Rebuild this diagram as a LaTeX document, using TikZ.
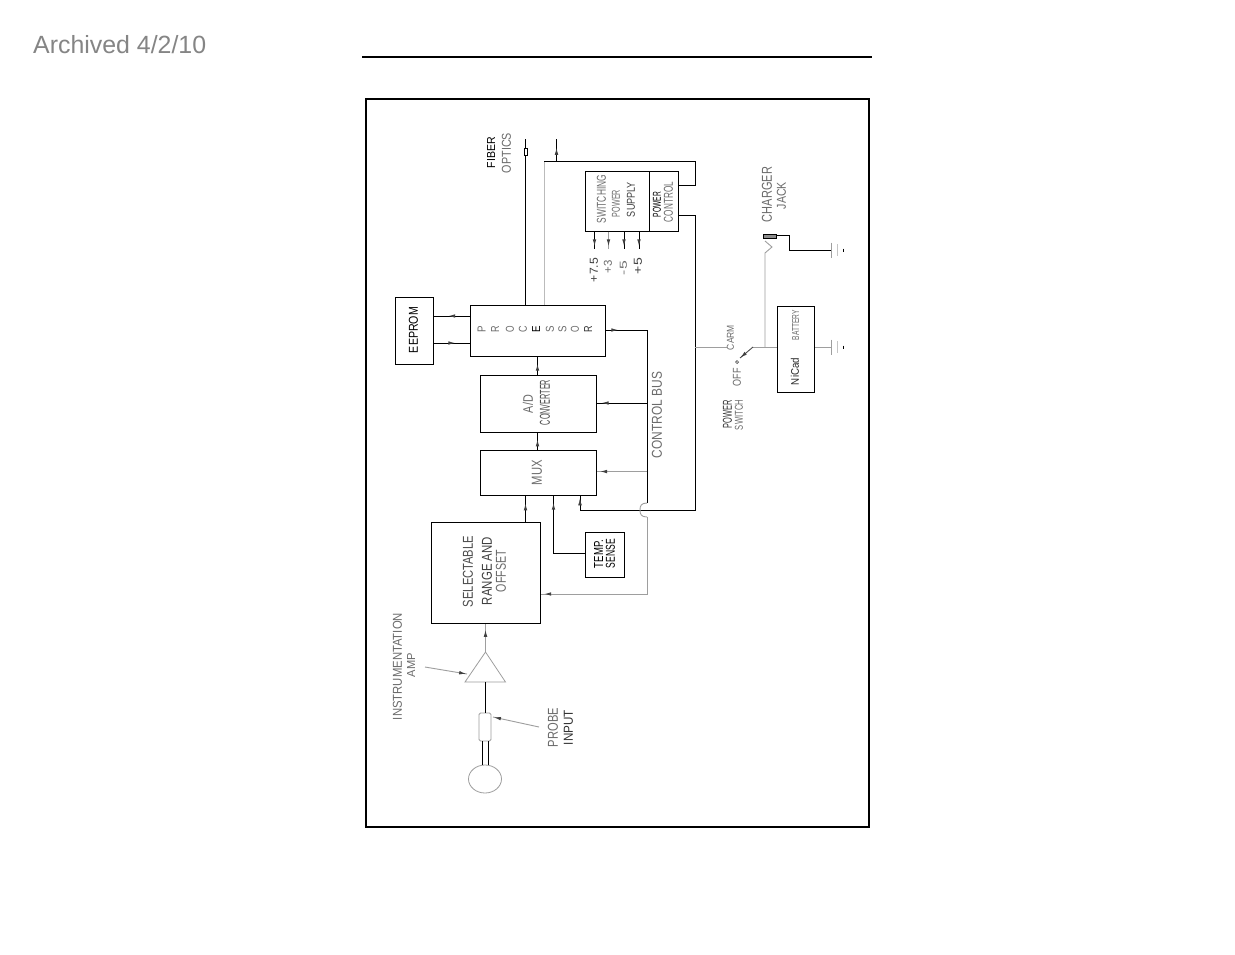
\documentclass[tikz,border=0pt]{standalone}
\usepackage{fontspec}
\setmainfont{Liberation Sans}
\usetikzlibrary{arrows.meta,decorations.markings}
\definecolor{lblgray}{gray}{0.42}
\definecolor{wiregray}{gray}{0.62}
\definecolor{archgray}{gray}{0.52}
\tikzset{
  box/.style={draw=black,line width=1pt,inner sep=0pt,fill=white},
  wire/.style={draw=black,line width=1pt},
  thinwire/.style={draw=wiregray,line width=0.9pt},
  lbl/.style={inner sep=0pt,outer sep=0pt},
  tiparrow/.style={postaction={decorate},decoration={markings,mark=at position #1 with {\arrow[black!75]{Latex[length=7pt,width=3.6pt]}}}},
}
\newcommand{\diaglab}[7][lblgray]{%
  \pgfmathsetmacro\cx{(#3+#4)/2}\pgfmathsetmacro\cy{(#5+#6)/2}%
  \pgfmathsetmacro\ww{#6-#5}\pgfmathsetmacro\hh{#4-#3}%
  \node[lbl,rotate=90,text=#1] (#2) at (\cx,\cy) {\resizebox{\ww pt}{\hh pt}{#7}};}
\newcommand{\gndsym}[1]{%
  \draw[thinwire] ([shift={(0,-7.5)}]#1) -- ([shift={(0,7.5)}]#1);
  \draw[draw=wiregray!60,line width=0.9pt] ([shift={(6,-6)}]#1) -- ([shift={(6,6)}]#1);
  \draw[draw=black,line width=0.9pt] ([shift={(12,-1.5)}]#1) -- ([shift={(12,1.5)}]#1);}
\begin{document}
\begin{tikzpicture}[x=1pt,y=-1pt]
\useasboundingbox (0,0) rectangle (1235,954);
\fill[white] (0,0) rectangle (1235,954);
\node[anchor=base west,inner sep=0pt,text=archgray,font=\fontsize{24.9}{28}\selectfont] (archived) at (33,53) {Archived 4/2/10};
\coordinate (ruleL) at (362,57); \coordinate (ruleR) at (872,57);
\draw[black,line width=2pt] (ruleL) -- (ruleR);
\node[draw=black,line width=2pt,minimum width=503pt,minimum height=728pt,inner sep=0pt] (frame) at (617.5,463) {};
% boxes
\node[box,minimum width=135.5pt,minimum height=51pt] (proc) at (537.75,330.5) {};
\node[box,minimum width=38.5pt,minimum height=67pt] (eeprom) at (414.25,330.5) {};
\node[box,minimum width=116pt,minimum height=57pt] (adc) at (538,403.5) {};
\node[box,minimum width=116pt,minimum height=45pt] (mux) at (538,472.5) {};
\node[box,minimum width=108.5pt,minimum height=101pt] (range) at (485.75,572.5) {};
\node[box,minimum width=39.5pt,minimum height=45pt] (temp) at (604.75,554.5) {};
\node[box,minimum width=63.5pt,minimum height=60pt] (sps) at (617.25,201) {};
\node[box,minimum width=29.5pt,minimum height=60pt] (pwr) at (663.75,201) {};
\node[box,minimum width=37.5pt,minimum height=86pt] (batt) at (795.75,349) {};
% fibre and power control lines
\coordinate (fiberTop) at (525,139);
\draw[wire] (proc.north -| fiberTop) -- (fiberTop);
\node[draw=black,fill=white,line width=0.7pt,minimum width=3pt,minimum height=7pt,inner sep=0pt] (fiberTip) at (525.5,151.5) {};
\coordinate (txTop) at (556.5,139); \coordinate (txJoin) at (556.5,161);
\draw[wire,line width=0.8pt,tiparrow=0.6] (txJoin) -- (txTop);
\coordinate (fbLeft) at (544,161); \coordinate (fbRight) at (695,161); \coordinate (fbDown) at (695,185);
\draw[thinwire,draw=wiregray!70] (proc.north -| fbLeft) -- (fbLeft);
\draw[wire] (fbLeft) -- (fbRight) -- (fbDown) -- (fbDown -| pwr.east);
\coordinate (pcOut) at (695,215); \coordinate (busCorner) at (695,510); \coordinate (muxIn3) at (580,510);
\draw[wire] (pcOut -| pwr.east) -- (pcOut) -- (busCorner) -- (muxIn3) -- (muxIn3 |- mux.south);
\path[tiparrow=0.8] (muxIn3) -- (muxIn3 |- mux.south);
% supply outputs
\foreach \nm/\xx/\cc in {a/594.5/black,b/608.5/wiregray,c/624/black,d/639/black}{
  \coordinate (out\nm) at (\xx,249);
  \draw[draw=\cc,line width=1pt,tiparrow=0.85] (out\nm |- sps.south) -- (out\nm);
}
% EEPROM lines
\coordinate (ee1) at (450,316); \coordinate (ee2) at (450,343);
\draw[wire,tiparrow=0.6] (ee1 -| proc.west) -- (ee1 -| eeprom.east);
\draw[wire,tiparrow=0.6] (ee2 -| eeprom.east) -- (ee2 -| proc.west);
% signal chain
\coordinate (chain) at (537.5,400);
\draw[wire,tiparrow=0.6] (chain |- adc.north) -- (chain |- proc.south);
\draw[wire,tiparrow=0.6] (chain |- mux.north) -- (chain |- adc.south);
\coordinate (rangeOut) at (525.5,510);
\draw[wire,tiparrow=0.7] (rangeOut |- range.north) -- (rangeOut |- mux.south);
\coordinate (tempTurn) at (553.5,553);
\draw[wire,tiparrow=0.92] (tempTurn -| temp.west) -- (tempTurn) -- (tempTurn |- mux.south);
% control bus
\coordinate (busTop) at (647,330); \coordinate (busEnd) at (647,503);
\coordinate (busHopEnd) at (647,517); \coordinate (busLow) at (647,594);
\draw[wire,tiparrow=0.3] (busTop -| proc.east) -- (busTop);
\draw[wire] (busTop) -- (busEnd);
\draw[thinwire] (busEnd) .. controls (641,503) and (640,506) .. (640,510) .. controls (640,514) and (641,517) .. (busHopEnd);
\draw[thinwire,tiparrow=0.98] (busHopEnd) -- (busLow) -- (busLow -| range.east);
\coordinate (busAdc) at (647,403); \coordinate (busMux) at (647,471.5);
\draw[wire,tiparrow=0.9] (busAdc) -- (busAdc -| adc.east);
\draw[thinwire,tiparrow=0.93] (busMux) -- (busMux -| mux.east);
% front end
\coordinate (ampApex) at (485.5,652);
\coordinate (ampL) at (465,682); \coordinate (ampR) at (505.5,682); \coordinate (ampB) at (485.5,682);
\draw[thinwire,line width=0.8pt] (ampApex) -- (ampL) -- (ampR) -- cycle;
\draw[thinwire,tiparrow=0.78] (ampApex) -- (ampApex |- range.south);
\node[draw=wiregray,line width=0.8pt,rounded corners=1.5pt,minimum width=12pt,minimum height=28pt,inner sep=0pt,fill=white] (probe) at (485,727) {};
\draw[wire] (ampB) -- (ampB |- probe.north);
\node[draw=wiregray,line width=0.8pt,ellipse stub/.style={},inner sep=0pt,minimum size=0pt] (ballCtr) at (485,779) {};
\draw[thinwire,line width=0.8pt] (ballCtr.center) ellipse [x radius=16.5pt,y radius=14pt];
\coordinate (probeL) at (482,741); \coordinate (probeR) at (488,741);
\draw[draw=black,line width=1pt] (probeL) -- (482,765);
\draw[draw=black,line width=1pt] (probeR) -- (488,765);
\coordinate (ampNote) at (425,667); \coordinate (ampTip) at (467,674);
\draw[thinwire,tiparrow=0.98] (ampNote) -- (ampTip);
\coordinate (probeNote) at (539,727); \coordinate (probeTip) at (493,717);
\draw[thinwire,tiparrow=0.98] (probeNote) -- (probeTip);
% power side
\coordinate (swL) at (727,347); \coordinate (swJoin) at (765,347); \coordinate (swPivot) at (753,347); \coordinate (swTip) at (740,358);
\draw[thinwire] (busCorner |- swL) -- (swL);
\draw[thinwire] (swPivot) -- (batt.west |- swPivot);
\draw[draw=black!70,line width=0.9pt,tiparrow=0.98] (swPivot) -- (swTip);
\draw[black!70,line width=0.7pt] (737,362) circle [radius=1.5pt];
\coordinate (jackA) at (765,253); \coordinate (jackB) at (772,247); \coordinate (jackC) at (765,241);
\draw[thinwire] (swJoin) -- (jackA) -- (jackB) -- (jackC);
\node[draw=black,fill=black!45,line width=1pt,minimum width=13pt,minimum height=4pt,inner sep=0pt] (jack) at (770,236) {};
\coordinate (g1) at (831,250); \coordinate (g2) at (831,347); \coordinate (jt) at (789,235.5); \coordinate (jb) at (789,250);
\draw[wire] (jack.east |- jt) -- (jt) -- (jb) -- (g1);
\draw[thinwire] (batt.east |- g2) -- (g2);
\gndsym{g1}
\gndsym{g2}
% labels
\diaglab[black]{tFiber}{487}{495}{137}{168}{FIBER}
\diaglab{tOptics}{502}{511}{133}{173}{OPTICS}
\diaglab{tSw}{597}{606}{175}{223}{SWITCHING}
\diaglab{tPow}{612}{620}{190}{217}{POWER}
\diaglab[black!75]{tSup}{627}{635}{182}{217}{SUPPLY}
\diaglab[black]{tPc}{653}{661}{192}{217}{POWER}
\diaglab{tCt}{664}{673}{182}{222}{CONTROL}
\diaglab[black!75]{tV1}{590}{598}{258}{282}{+7.5}
\diaglab{tV2}{604}{612}{260}{273}{+3}
\diaglab{tV3}{620}{627}{261}{275}{-5}
\diaglab[black!75]{tV4}{634}{642}{258}{274}{+5}
\diaglab[black]{tEe}{409}{418}{307}{353}{EEPROM}
\diaglab{tAd}{523}{533}{395}{413}{A/D}
\diaglab[black!70]{tCv}{540}{550}{380}{425}{CONVERTER}
\diaglab{tMux}{532}{542}{460}{485}{MUX}
\diaglab{tBus}{652}{662}{372}{458}{CONTROL  BUS}
\diaglab[black!70]{tSel}{463}{473}{536}{607}{SELECTABLE}
\diaglab[black!75]{tRng}{482}{492}{537}{605}{RANGE  AND}
\diaglab{tOff}{496}{506}{550}{592}{OFFSET}
\diaglab[black]{tTm}{594}{603}{540}{568}{TEMP.}
\diaglab[black]{tSn}{606}{615}{539}{568}{SENSE}
\diaglab{tIn}{393}{402}{613}{720}{INSTRUMENTATION}
\diaglab{tAm}{407}{415}{653}{677}{AMP}
\diaglab{tPb}{548}{558}{708}{747}{PROBE}
\diaglab[black!80]{tIp}{564}{573}{710}{745}{INPUT}
\diaglab{tCh}{762}{772}{167}{222}{CHARGER}
\diaglab{tJk}{777}{786}{182}{209}{JACK}
\diaglab[black!85]{tNi}{791}{799}{358}{385}{NiCad}
\diaglab{tBa}{792}{799}{310}{340}{BATTERY}
\diaglab[black!80]{tPw}{723}{732}{400}{428}{POWER}
\diaglab{tSt}{735}{743}{400}{430}{SWITCH}
\diaglab{tOf}{733}{741}{368}{386}{OFF}
\diaglab{tCa}{727}{734}{325}{350}{CARM}
\foreach \nm/\xx/\ll/\cc in {1/481.5/P/lblgray,2/495/R/lblgray,3/510/O/lblgray,4/523/C/lblgray,5/536/E/black,6/550/S/lblgray,7/562.5/S/lblgray,8/575/O/lblgray,9/588/R/black!80}{
  \node[lbl,rotate=90,text=\cc] (tP\nm) at (\xx,329.5) {\resizebox{6.5pt}{8pt}{\ll}};
}
\end{tikzpicture}
\end{document}
